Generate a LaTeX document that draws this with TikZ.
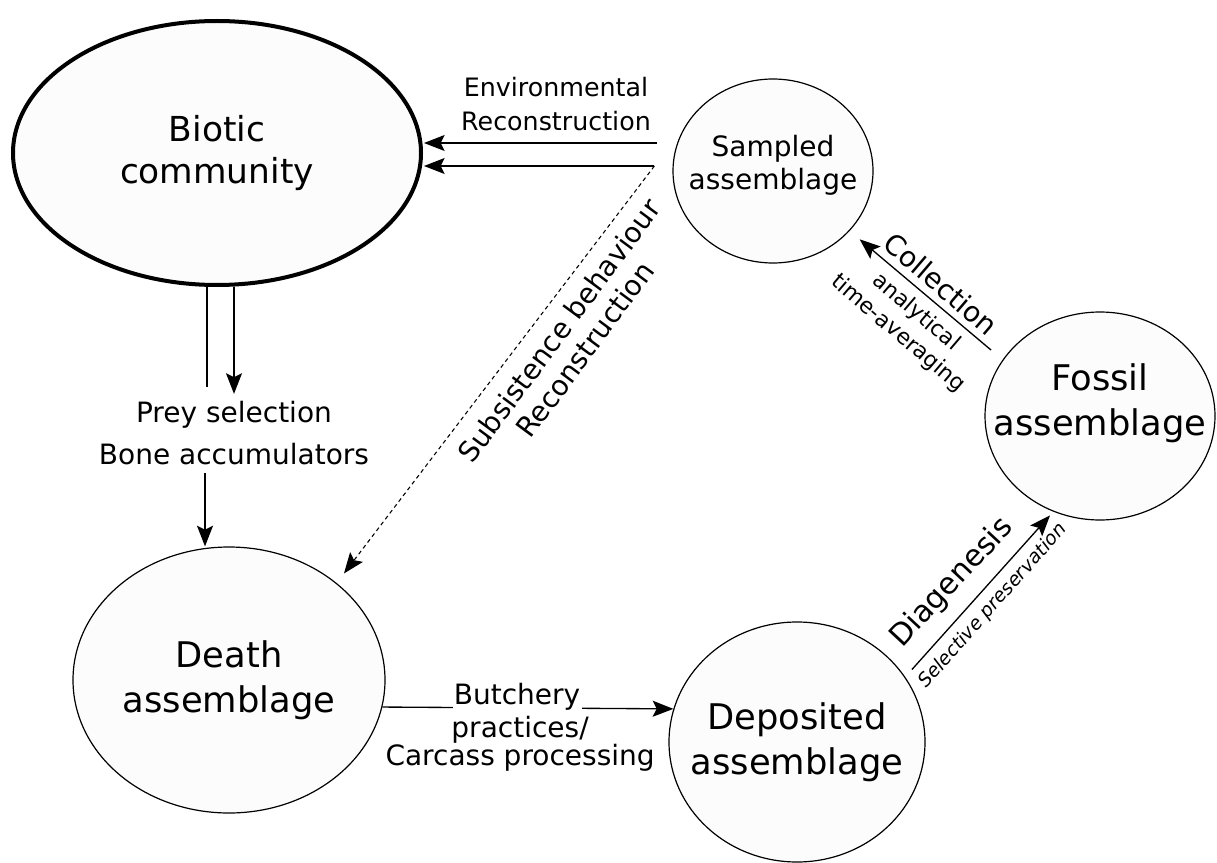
\documentclass[tikz,border=0pt]{standalone}
\usepackage{fontspec}
\setmainfont{DejaVu Sans}
\usetikzlibrary{arrows.meta,shapes.geometric,calc}

\begin{document}
\begin{tikzpicture}[x=0.75pt,y=0.75pt]
\tikzstyle{assem} = [ellipse, draw, fill=black!1, line width=0.9pt, inner sep=0pt]
\tikzstyle{bigtxt} = [align=center, font=\fontsize{26.5}{33.75}\selectfont]
\tikzstyle{midtxt} = [align=center, font=\fontsize{21}{24.75}\selectfont]
\tikzstyle{lbl} = [align=center, inner sep=0pt, font=\fontsize{21}{24}\selectfont]
\tikzstyle{small} = [align=center, inner sep=0pt, font=\fontsize{16.5}{21}\selectfont]
\tikzstyle{line} = [draw, line width=1pt, -{Stealth[length=15.5pt,width=12pt,inset=3pt]}]
\tikzstyle{plain} = [draw, line width=1pt]

\useasboundingbox (0,0) rectangle (1217,-863);

% assemblages
\node[assem, line width=3pt, minimum width=306pt, minimum height=198pt,
  label={[bigtxt, font=\fontsize{25.8}{31.5}\selectfont]center:Biotic\\community}] (biotic) at (217,-153) {};
\node[assem, minimum width=150pt, minimum height=138pt,
  label={[midtxt, yshift=4.5pt]center:Sampled\\assemblage}] (sampled) at (773,-171) {};
\node[assem, minimum width=172.5pt, minimum height=156pt,
  label={[bigtxt, yshift=9.75pt]center:Fossil\\assemblage}] (fossil) at (1100,-416) {};
\node[assem, minimum width=234pt, minimum height=199.5pt,
  label={[bigtxt]center:Death\\assemblage}] (death) at (229,-680) {};
\node[assem, minimum width=192pt, minimum height=180pt,
  label={[bigtxt]center:Deposited\\assemblage}] (deposited) at (797,-742) {};

% labels
\node[lbl, font=\fontsize{19}{25.5}\selectfont] (env) at (556,-104) {Environmental\\Reconstruction};
\node[lbl, font=\fontsize{21}{31.5}\selectfont] (prey) at (234,-433) {Prey selection\\Bone accumulators};
\node[lbl, rotate=53.5] (subs) at (572,-340) {Subsistence behaviour\\Reconstruction};
\node[lbl, rotate=-40.5] (coll) at (941,-284) {Collection};
\node[small, rotate=-40.5] (avg) at (907,-323) {analytical\\time-averaging};
\node[lbl, rotate=47, font=\fontsize{22.5}{26}\selectfont] (diag) at (952,-583) {Diagenesis};
\node[lbl, rotate=48.5, font=\fontsize{14.2}{17}\selectfont\itshape] (pres) at (993,-606) {Selective preservation};

\coordinate (fork) at ($(sampled.west)+(-18,5)$);

% connectors
\path[line] ($(sampled.west)+(-15,28)$) -- ($(biotic.east)+(1,10)$);
\path[line] (fork) -- ($(biotic.east)+(1,-13)$);
\path[line, line width=0.8pt, dash pattern=on 3pt off 2.5pt, shorten >=9pt] (fork) -- (death.42);
\path[plain] ($(biotic.south)+(-10,0)$) -- ($(prey.north)+(-27,14)$);
\path[line] ($(biotic.south)+(17,0)$) -- ($(prey.north)+(0,7)$);
\path[line] ($(prey.south)+(-29,-8)$) -- ($(death.north)+(-24,0)$);
\path[line] (death.-10) -- node[pos=0.463, anchor=base, yshift=2.25pt, fill=white, inner sep=1pt,
  font=\fontsize{21}{24}\selectfont] (butch) {Butchery} (deposited.165);
\node[lbl, anchor=north, font=\fontsize{21}{21}\selectfont] (carcass) at ($(butch.base)+(3,-11)$) {practices/\\Carcass processing};
\path[line, shorten <=7.5pt, shorten >=3.75pt] (deposited.31) -- (fossil.244);
\path[line, shorten <=11.25pt, shorten >=9.75pt] (fossil.150) -- (sampled.-38);
\end{tikzpicture}
\end{document}
